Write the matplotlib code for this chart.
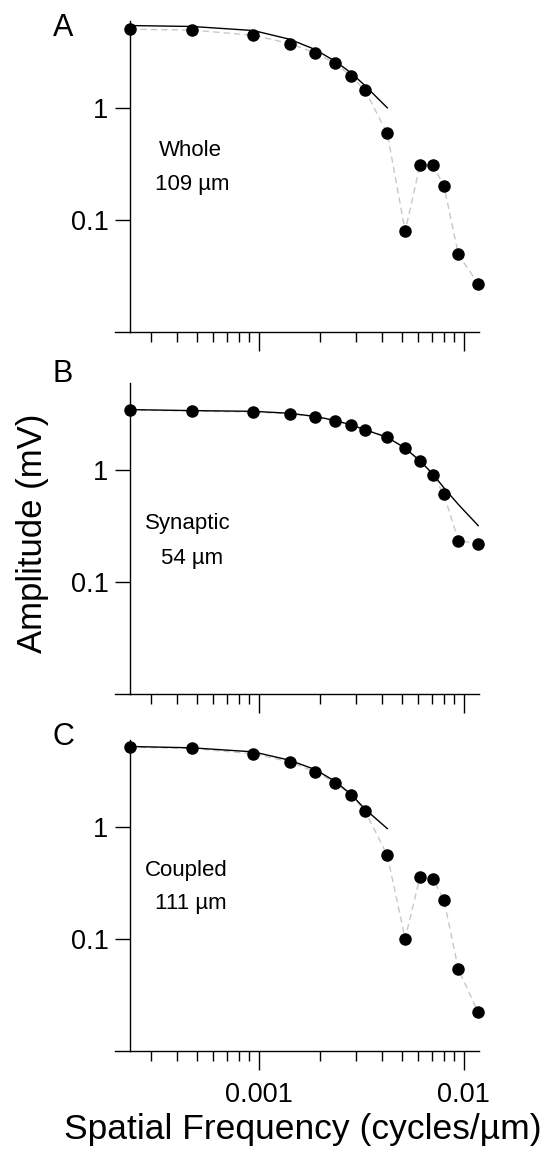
import matplotlib
matplotlib.use("Agg")
import matplotlib.pyplot as plt
from matplotlib.ticker import FixedLocator, NullFormatter, NullLocator

plt.rcParams["font.family"] = ["Liberation Sans", "DejaVu Sans"]

# Spatial frequencies (cycles/um)
freq = [0.000236, 0.000472, 0.000944, 0.001416, 0.001888, 0.00236, 0.002832,
        0.003304, 0.004248, 0.005192, 0.006136, 0.00708, 0.008024, 0.00944, 0.0118]

# Measured amplitudes (mV)
amp_whole = [5.04, 4.94, 4.45, 3.75, 3.10, 2.50, 1.92, 1.44, 0.590, 0.079,
             0.310, 0.310, 0.201, 0.049, 0.0267]
amp_synaptic = [3.42, 3.35, 3.28, 3.17, 2.98, 2.73, 2.52, 2.29, 1.97, 1.57,
                1.21, 0.908, 0.603, 0.233, 0.219]
amp_coupled = [5.18, 5.04, 4.52, 3.83, 3.12, 2.50, 1.93, 1.40, 0.559, 0.101,
               0.360, 0.346, 0.224, 0.0536, 0.0221]

# Fitted curves (evaluated at the first n frequencies)
fit_whole = [5.43, 5.33, 4.90, 4.10, 3.32, 2.61, 2.05, 1.58, 1.0]
fit_synaptic = [3.45, 3.38, 3.33, 3.20, 3.00, 2.76, 2.52, 2.28, 1.95, 1.56,
                1.20, 0.92, 0.69, 0.49, 0.317]
fit_coupled = [5.25, 5.11, 4.70, 3.96, 3.27, 2.57, 1.96, 1.45, 0.97]

panel_letters = ["A", "B", "C"]
panel_names = ["Whole", "Synaptic", "Coupled"]
panel_lengths = ["109 µm", "54 µm", "111 µm"]

# Figure
W, H = 553, 1150
fig = plt.figure(figsize=(W / 100, H / 100), dpi=100)

# Axes boxes in pixels
ax_left, ax_width = 130, 349
ax_tops = [20.7, 382.7, 740.0]
ax_height = 311
letter_y = [28, 374, 737]
name_xy = [(0.172, 0.584), (0.166, 0.546), (0.160, 0.579)]
length_xy = [(0.178, 0.472), (0.178, 0.436), (0.175, 0.473)]

amps = [amp_whole, amp_synaptic, amp_coupled]
fits = [fit_whole, fit_synaptic, fit_coupled]

minor_x = [0.0003, 0.0004, 0.0005, 0.0006, 0.0007, 0.0008, 0.0009,
           0.002, 0.003, 0.004, 0.005, 0.006, 0.007, 0.008, 0.009]

for i in range(3):
    top = ax_tops[i]
    ax = fig.add_axes([ax_left / W, 1 - (top + ax_height) / H,
                       ax_width / W, ax_height / H])

    # Measured data, grey dashed
    ax.plot(freq, amps[i], color="#c8c8c8", linewidth=1.0,
            dashes=(4.5, 3), zorder=1)
    # Fit
    ax.plot(freq[:len(fits[i])], fits[i], color="black", linewidth=1.0, zorder=2)
    # Points
    ax.plot(freq, amps[i], linestyle="none", marker="o", markersize=8,
            color="black", zorder=3, clip_on=False)

    ax.set_xscale("log")
    ax.set_yscale("log")
    ax.set_xlim(0.000236, 0.0119)
    ax.set_ylim(0.01, 6.0)

    # Spines
    for s in ["top", "right"]:
        ax.spines[s].set_visible(False)
    for s in ["left", "bottom"]:
        ax.spines[s].set_linewidth(1.0)
    # Bottom axis line runs a tick length past the left axis
    ax.plot([-15 / ax_width, 0], [0, 0], transform=ax.transAxes,
            color="black", linewidth=1.0, clip_on=False)

    # Ticks
    ax.yaxis.set_major_locator(FixedLocator([0.1, 1]))
    ax.yaxis.set_minor_locator(NullLocator())
    ax.set_yticklabels(["0.1", "1"])
    ax.xaxis.set_major_locator(FixedLocator([0.001, 0.01]))
    ax.xaxis.set_minor_locator(FixedLocator(minor_x))
    ax.xaxis.set_minor_formatter(NullFormatter())
    if i == 2:
        ax.set_xticklabels(["0.001", "0.01"])
    else:
        ax.xaxis.set_major_formatter(NullFormatter())
    ax.tick_params(axis="y", which="major", direction="out", length=10.5,
                   width=1.0, pad=5, labelsize=19.5)
    ax.tick_params(axis="x", which="major", direction="out", length=13.5,
                   width=1.0, pad=9, labelsize=19.5)
    ax.tick_params(axis="x", which="minor", direction="out", length=7,
                   width=1.0)

    # Panel annotations
    ax.text(name_xy[i][0], name_xy[i][1], panel_names[i], transform=ax.transAxes,
            ha="center", va="center", fontsize=16)
    ax.text(length_xy[i][0], length_xy[i][1], panel_lengths[i], transform=ax.transAxes,
            ha="center", va="center", fontsize=16)
    fig.text(63 / W, 1 - letter_y[i] / H, panel_letters[i], ha="center",
             va="center", fontsize=22)

# Axis labels
fig.text(33 / W, 1 - 533 / H, "Amplitude (mV)", rotation=90, ha="center",
         va="center", fontsize=25)
fig.text(303 / W, 1 - 1130 / H, "Spatial Frequency (cycles/µm)", ha="center",
         va="center", fontsize=25.5)

fig.savefig("out.png", dpi=100)
